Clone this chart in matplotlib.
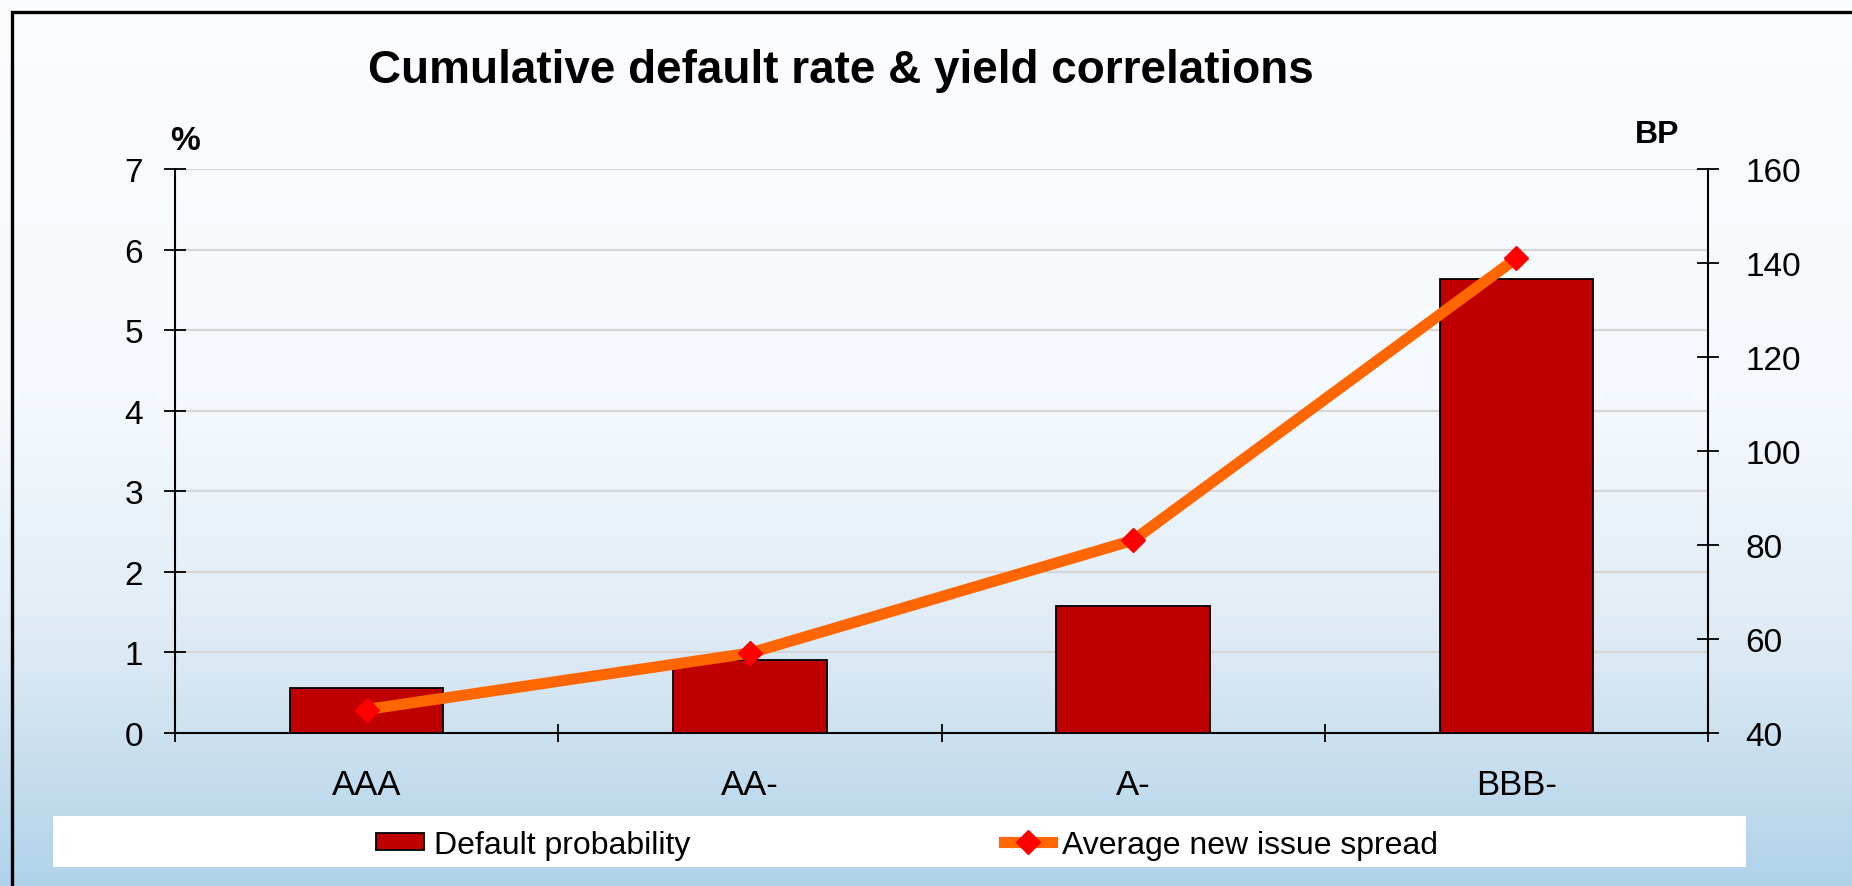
# Cumulative default rate & yield correlations

import numpy as np
import matplotlib.pyplot as plt
from matplotlib.patches import Rectangle

# dados
ratings = ['AAA', 'AA-', 'A-', 'BBB-']
default_prob = [0.56, 0.91, 1.58, 5.63]   # %
spread_bp = [45, 57, 81, 141]             # BP
left_ticks = [0, 1, 2, 3, 4, 5, 6, 7]
right_ticks = [40, 60, 80, 100, 120, 140, 160]

W, H = 1852, 887
plt.rcParams['font.family'] = ['Liberation Sans', 'DejaVu Sans']


def fx(px):
    return px / W


def fy(py):
    return 1 - py / H


fig = plt.figure(figsize=(W / 100, H / 100), dpi=100)

# fundo em degradê (branco em cima, azul claro em baixo)
bg = fig.add_axes([0, 0, 1, 1], zorder=-10)
t = np.linspace(0, 1, 300)[:, None]
stops = [0, 0.45, 0.72, 1]
r = np.interp(t, stops, [0.985, 0.960, 0.875, 0.69])
g = np.interp(t, stops, [0.990, 0.978, 0.922, 0.825])
b = np.interp(t, stops, [1.000, 0.993, 0.960, 0.915])
grad = np.dstack([r, g, b])
bg.imshow(grad, aspect='auto', extent=[0, 1, 0, 1])
bg.axis('off')

# eixo principal (barras)
ax = fig.add_axes([fx(175), fy(734), fx(1708) - fx(175), fy(170) - fy(734)])
ax.set_facecolor('none')
x = np.arange(len(ratings))
bars = ax.bar(x, default_prob, width=0.4, color='#C00000', edgecolor='black',
              linewidth=1.3, zorder=3, label='Default probability')
ax.set_xlim(-0.5, len(ratings) - 0.5)
ax.set_ylim(0, 7)
ax.set_yticks(left_ticks)
ax.grid(axis='y', color='#d6d6d6', linewidth=1.6)
ax.set_axisbelow(True)
ax.set_xticks(np.arange(-0.5, len(ratings), 1))
ax.set_xticklabels([])
ax.set_xticks(x, minor=True)
ax.set_xticklabels(ratings, minor=True)
ax.tick_params(axis='x', which='major', direction='inout', length=13, width=1.3)
ax.tick_params(axis='x', which='minor', length=0, pad=25, labelsize=25)
ax.tick_params(axis='y', direction='inout', length=16, width=1.3, pad=15, labelsize=24)
for s in ['top', 'right']:
    ax.spines[s].set_visible(False)
for s in ['left', 'bottom']:
    ax.spines[s].set_linewidth(1.5)

# eixo secundário (spread)
ax2 = ax.twinx()
line, = ax2.plot(x, spread_bp, color='#FF6600', linewidth=8, marker='D', markersize=12,
                 markerfacecolor='red', markeredgecolor='red', zorder=4,
                 label='Average new issue spread')
ax2.set_ylim(40, 160)
ax2.set_yticks(right_ticks)
ax2.tick_params(axis='y', direction='inout', length=16, width=1.3, pad=19, labelsize=24)
for s in ['top', 'left', 'bottom']:
    ax2.spines[s].set_visible(False)
ax2.spines['right'].set_linewidth(1.5)

# títulos
fig.text(fx(841), fy(71), 'Cumulative default rate & yield correlations',
         ha='center', va='center', fontsize=33, fontweight='bold')
fig.text(fx(185), fy(141), '%', ha='center', va='center', fontsize=24, fontweight='bold')
fig.text(fx(1657), fy(135), 'BP', ha='center', va='center', fontsize=23, fontweight='bold')

# moldura
fig.add_artist(Rectangle((fx(12), -0.1), 1.2, fy(13) + 0.1, transform=fig.transFigure,
                         fill=False, edgecolor='black', linewidth=2.4, zorder=5))

# legenda
fig.add_artist(Rectangle((fx(53), fy(868)), fx(1746) - fx(53), fy(817) - fy(868),
                         transform=fig.transFigure, facecolor='white', edgecolor='none', zorder=1))
fig.legend(handles=[bars], loc='center left', bbox_to_anchor=(fx(376), fy(846)),
           frameon=False, fontsize=23, handlelength=1.5, handleheight=0.45,
           handletextpad=0.3, borderpad=0, borderaxespad=0)
fig.legend(handles=[line], loc='center left', bbox_to_anchor=(fx(1004), fy(846)),
           frameon=False, fontsize=23, handlelength=1.5, handletextpad=0.3,
           borderpad=0, borderaxespad=0)

plt.savefig('out.png', dpi=100)
